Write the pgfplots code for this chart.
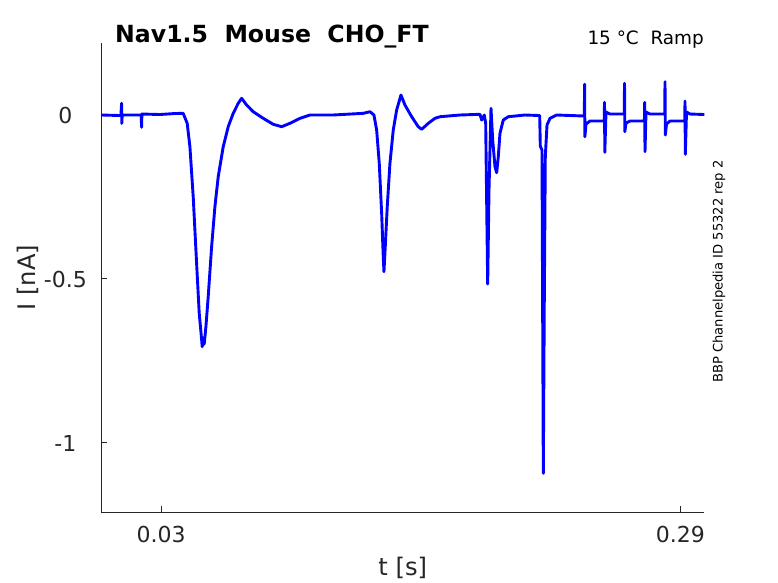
\documentclass[border=0pt]{standalone}
\usepackage{fontspec}
\setmainfont{DejaVu Sans}
\usepackage{pgfplots}
\pgfplotsset{compat=1.18}
\definecolor{axgray}{RGB}{38,38,38}
\definecolor{trace}{RGB}{0,0,255}
\begin{document}
\begin{tikzpicture}
\path[use as bounding box] (0,0) rectangle (778bp,583bp);
\begin{axis}[
  at={(101.3bp,70.7bp)}, anchor=south west,
  scale only axis, width=603bp, height=469.6bp,
  xmin=0, xmax=0.302, ymin=-1.2117, ymax=0.217,
  axis lines=left,
  axis line style={-, draw=axgray, line width=0.9bp},
  tick align=inside, major tick length=6bp,
  tick style={draw=axgray, line width=0.9bp},
  xtick={0.03,0.29}, xticklabels={0.03,0.29},
  ytick={-1,-0.5,0}, yticklabels={-1,-0.5,0},
  xticklabel style={anchor=base, yshift=-30bp, inner sep=0pt, font=\fontsize{22bp}{26bp}\selectfont, text=axgray},
  yticklabel style={anchor=center, xshift=-36bp, yshift=-1.2bp, inner sep=0pt, font=\fontsize{22bp}{26bp}\selectfont, text=axgray},
  xlabel={t [s]}, ylabel={I [nA]},
  x label style={at={(axis description cs:0.5,0)}, anchor=base, yshift=-63.4bp, inner sep=0pt, font=\fontsize{24.2bp}{28bp}\selectfont, text=axgray},
  y label style={at={(axis description cs:0,0.5)}, anchor=center, yshift=73.8bp, inner sep=0pt, font=\fontsize{24.2bp}{28bp}\selectfont, text=axgray},
]
\addplot[trace, line width=2.9bp, line join=round, mark=none] coordinates {
(0.00000,-0.0030) (0.00981,-0.0046) (0.01016,0.0326) (0.01026,-0.0283) (0.01046,-0.0030)
(0.01998,-0.0030) (0.02018,-0.0405) (0.02033,0.0000) (0.02935,-0.0015) (0.03686,0.0015)
(0.04102,0.0021) (0.04302,-0.0283) (0.04438,-0.0995) (0.04603,-0.2516) (0.04773,-0.4542)
(0.04904,-0.6063) (0.05004,-0.6723) (0.05054,-0.7079) (0.05104,-0.6815) (0.05154,-0.7001)
(0.05239,-0.6471) (0.05354,-0.5558) (0.05525,-0.4037) (0.05690,-0.2820) (0.05855,-0.1908)
(0.06106,-0.0995) (0.06356,-0.0386) (0.06607,0.0021) (0.06857,0.0326) (0.07028,0.0478)
(0.07278,0.0274) (0.07609,0.0070) (0.08110,-0.0131) (0.08611,-0.0313) (0.09032,-0.0386)
(0.09447,-0.0283) (0.09948,-0.0131) (0.10449,-0.0030) (0.11616,-0.0030) (0.13119,0.0021)
(0.13455,0.0070) (0.13655,-0.0030) (0.13790,-0.0487) (0.13921,-0.1500) (0.14041,-0.3021)
(0.14121,-0.4341) (0.14156,-0.4798) (0.14221,-0.4037) (0.14321,-0.2820) (0.14456,-0.1500)
(0.14622,-0.0487) (0.14792,0.0122) (0.15008,0.0578) (0.15208,0.0274) (0.15544,-0.0082)
(0.15875,-0.0386) (0.16045,-0.0465) (0.16375,-0.0283) (0.16711,-0.0131) (0.16962,-0.0082)
(0.17963,-0.0030) (0.18965,-0.0009) (0.19051,-0.0183) (0.19181,-0.0030) (0.19251,-0.0274)
(0.19351,-0.5172) (0.19417,-0.2312) (0.19517,0.0173) (0.19602,-0.0791) (0.19717,-0.1603)
(0.19802,-0.1786) (0.19882,-0.1299) (0.19967,-0.0587) (0.20132,-0.0183) (0.20383,-0.0082)
(0.21220,-0.0030) (0.21956,-0.0046) (0.21986,-0.0974) (0.22071,-0.1095) (0.22137,-1.0931)
(0.22187,-0.5659) (0.22237,-0.1299) (0.22322,-0.0335) (0.22472,-0.0131) (0.22807,-0.0030)
(0.24190,-0.0061) (0.24205,0.0904) (0.24220,-0.0691) (0.24275,-0.0304) (0.24476,-0.0213)
(0.25187,-0.0213) (0.25202,0.0356) (0.25217,-0.1165) (0.25277,0.0061) (0.25478,0.0000)
(0.26189,0.0000) (0.26204,0.0934) (0.26219,-0.0538) (0.26279,-0.0274) (0.26479,-0.0213)
(0.27200,-0.0213) (0.27215,0.0356) (0.27230,-0.1147) (0.27280,0.0061) (0.27481,0.0000)
(0.28217,0.0000) (0.28232,0.0983) (0.28247,-0.0639) (0.28307,-0.0304) (0.28483,-0.0213)
(0.29219,-0.0213) (0.29234,0.0396) (0.29249,-0.1226) (0.29309,0.0061) (0.29484,0.0000)
(0.30202,-0.0015)
};
\end{axis}
\node[anchor=base west, inner sep=0pt, font=\bfseries\fontsize{23.6bp}{28bp}\selectfont] at (115bp,540.5bp) {Nav1.5\ \ Mouse\ \ CHO\_FT};
\node[anchor=base east, inner sep=0pt, font=\fontsize{18.4bp}{22bp}\selectfont] at (704bp,538.5bp) {15 °C\ \ Ramp};
\node[rotate=90, anchor=center, inner sep=0pt, font=\fontsize{13.1bp}{15bp}\selectfont] at (719bp,311.5bp) {BBP Channelpedia ID 55322 rep 2};
\end{tikzpicture}
\end{document}
